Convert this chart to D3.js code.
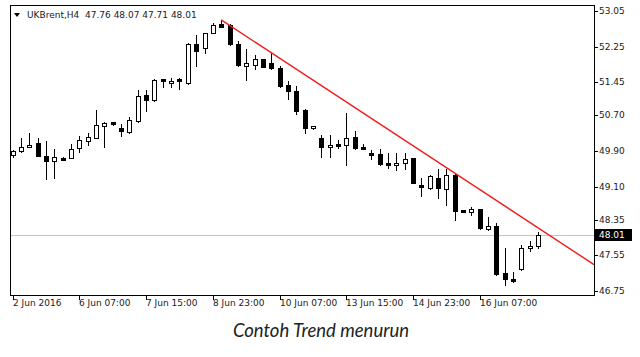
<!DOCTYPE html>
<html><head><meta charset="utf-8">
<script src="https://cdn.jsdelivr.net/npm/d3@7/dist/d3.min.js"></script>
<style>html,body{margin:0;padding:0;background:#fff;} svg{display:block;}</style>
</head><body><svg id="chart" width="640" height="357"></svg>
<script>
// ---- data (H4 candles, UKBrent) ----
const openP  = [49.80,49.91,49.99,50.07,49.79,49.68,49.75,49.75,49.96,50.13,50.20,50.47,50.55,50.42,50.33,50.58,51.16,51.05,51.51,51.42,51.51,51.44,52.30,52.22,52.56,52.75,52.74,52.30,51.81,51.84,51.96,51.89,51.77,51.38,51.25,50.82,50.41,50.19,49.98,50.05,50.03,50.22,50.00,49.86,49.83,49.62,49.59,49.62,49.74,49.14,49.06,49.29,49.04,49.36,48.57,48.53,48.59,48.14,48.21,47.16,47.01,47.24,47.71,47.76];
const highP  = [49.92,50.20,50.30,50.19,50.13,49.94,49.76,50.06,50.24,50.30,50.82,50.56,50.56,50.50,50.67,51.27,51.27,51.51,51.51,51.54,51.54,52.32,52.51,52.56,52.77,52.85,52.76,52.38,52.19,52.06,51.97,52.10,51.81,51.47,51.36,50.84,50.47,50.26,50.26,50.15,50.76,50.36,50.05,49.92,49.94,49.86,49.85,49.85,49.75,49.29,49.36,49.49,49.49,49.40,48.58,48.63,48.60,48.42,48.27,47.71,47.18,47.79,47.88,48.07];
const lowP   = [49.77,49.88,49.98,49.78,49.27,49.29,49.72,49.74,49.88,50.03,50.19,49.98,50.49,50.24,50.31,50.56,50.80,51.03,51.35,51.35,51.29,51.41,51.81,52.11,52.55,52.68,52.29,51.81,51.50,51.74,51.79,51.74,51.35,51.06,50.73,50.31,50.40,49.77,49.77,49.96,49.59,49.94,49.96,49.71,49.59,49.52,49.47,49.50,49.18,48.89,49.05,48.84,48.69,48.35,48.53,48.46,48.14,48.12,47.11,46.89,46.96,47.22,47.66,47.71];
const closeP = [49.89,50.00,50.04,49.79,49.68,49.77,49.73,49.94,50.15,50.22,50.49,50.53,50.50,50.35,50.60,51.14,51.05,51.50,51.47,51.48,51.47,52.30,52.16,52.56,52.74,52.70,52.30,51.84,51.87,51.98,51.80,51.77,51.36,51.25,50.80,50.41,50.46,50.00,50.03,50.01,50.20,49.96,49.97,49.83,49.61,49.59,49.64,49.71,49.19,49.10,49.34,49.06,49.36,48.56,48.54,48.59,48.16,48.21,47.13,47.01,46.98,47.71,47.76,48.01];

const yTickValues = [53.05,52.25,51.45,50.70,49.90,49.10,48.35,47.55,46.75];
const xTickBars   = [0,8,16,24,32,40,48,56];
const xTickLabels = ["2 Jun 2016","6 Jun 07:00","7 Jun 15:00","8 Jun 23:00","10 Jun 07:00","13 Jun 15:00","14 Jun 23:00","16 Jun 07:00"];

const symbolName = "UKBrent,H4";
const lastPrice = 48.01;
const trendBars   = [25, 63];
const trendPrices = [52.85, 48.17];
const captionText = "Contoh Trend menurun";

// ---- layout ----
const svg = d3.select("#chart");
const L = 10, R = 594, T = 5, B = 295;
const x = d3.scaleLinear().domain([0, 63]).range([12.7, 538.1]);
const y = d3.scaleLinear().domain([46.75, 53.05]).range([291, 11]);
const ink = "#1a1a1a";
const fontAx = "'DejaVu Sans', Verdana, sans-serif";

svg.append("rect").attr("width",640).attr("height",357).attr("fill","#fff");

svg.append("defs").append("clipPath").attr("id","plotclip")
  .append("rect").attr("x",L+1).attr("y",T+1).attr("width",R-L-1).attr("height",B-T-1);

const plot = svg.append("g").attr("clip-path","url(#plotclip)");

// current price line
plot.append("line")
  .attr("x1",L).attr("x2",R)
  .attr("y1",Math.round(y(lastPrice))+0.5).attr("y2",Math.round(y(lastPrice))+0.5)
  .attr("stroke","#c4c4c4").attr("stroke-width",1);

// candles
const idx = d3.range(openP.length);
const cg = plot.append("g").attr("shape-rendering","crispEdges");
idx.forEach(i => {
  const cx = Math.round(x(i));
  const bull = closeP[i] >= openP[i];
  const yh = Math.round(y(highP[i])), yl = Math.round(y(lowP[i]));
  let yt = Math.round(y(Math.max(openP[i], closeP[i])));
  let yb = Math.round(y(Math.min(openP[i], closeP[i])));
  if (yb - yt < 2) { yb = yt + 2; }
  cg.append("line").attr("x1",cx+0.5).attr("x2",cx+0.5).attr("y1",yh).attr("y2",yl+1)
    .attr("stroke","#000").attr("stroke-width",1);
  if (bull) {
    cg.append("rect").attr("x",cx-2+0.5).attr("y",yt+0.5).attr("width",4).attr("height",Math.max(1,yb-yt))
      .attr("fill","#fff").attr("stroke","#000").attr("stroke-width",1);
  } else {
    cg.append("rect").attr("x",cx-2).attr("y",yt).attr("width",5).attr("height",Math.max(2,yb-yt+1))
      .attr("fill","#000");
  }
});

// trend line, extended to the right edge
const slope = (trendPrices[1]-trendPrices[0])/(trendBars[1]-trendBars[0]);
const endBar = x.invert(R);
plot.append("line")
  .attr("x1",x(trendBars[0])).attr("y1",y(trendPrices[0]))
  .attr("x2",x(endBar)).attr("y2",y(trendPrices[0]+slope*(endBar-trendBars[0])))
  .attr("stroke","#ee1c1c").attr("stroke-width",1.4);

// frame
svg.append("rect").attr("x",L+0.5).attr("y",T+0.5).attr("width",R-L).attr("height",B-T)
  .attr("fill","none").attr("stroke","#000").attr("stroke-width",1).attr("shape-rendering","crispEdges");

// right price axis
const ya = svg.append("g");
yTickValues.forEach(v => {
  const yy = Math.round(y(v));
  ya.append("line").attr("x1",R).attr("x2",R+4).attr("y1",yy+0.5).attr("y2",yy+0.5)
    .attr("stroke","#000").attr("shape-rendering","crispEdges");
  ya.append("text").attr("x",R+5).attr("y",yy).attr("dy","0.35em")
    .attr("font-family",fontAx).attr("font-size",9).attr("fill",ink).text(d3.format(".2f")(v));
});
// current price label
const ly = Math.round(y(lastPrice));
ya.append("rect").attr("x",R+1).attr("y",ly-6).attr("width",37).attr("height",12).attr("fill","#000");
ya.append("text").attr("x",R+5).attr("y",ly).attr("dy","0.35em")
  .attr("font-family",fontAx).attr("font-size",9).attr("fill","#fff").text(d3.format(".2f")(lastPrice));

// bottom time axis
const xa = svg.append("g");
xTickBars.forEach((b,k) => {
  const xx = Math.round(x(b));
  xa.append("line").attr("x1",xx+0.5).attr("x2",xx+0.5).attr("y1",B).attr("y2",B+5)
    .attr("stroke","#000").attr("shape-rendering","crispEdges");
  xa.append("text").attr("x",xx).attr("y",B+11)
    .attr("font-family",fontAx).attr("font-size",9).attr("fill",ink).text(xTickLabels[k]);
});

// header
const n = openP.length - 1;
svg.append("path").attr("d","M14,13 L20,13 L17,17 Z").attr("fill","#000");
svg.append("text").attr("x",27).attr("y",18)
  .attr("font-family",fontAx).attr("font-size",9).attr("fill",ink)
  .attr("xml:space","preserve")
  .text(symbolName + "  " + [openP[n],highP[n],lowP[n],closeP[n]].map(d3.format(".2f")).join(" "));

// caption
svg.append("text").attr("x",321).attr("y",337).attr("text-anchor","middle")
  .attr("font-family","Lato, 'Open Sans', sans-serif").attr("font-style","italic")
  .attr("font-size",18.5).attr("fill","#222").text(captionText);
</script>
</body></html>
